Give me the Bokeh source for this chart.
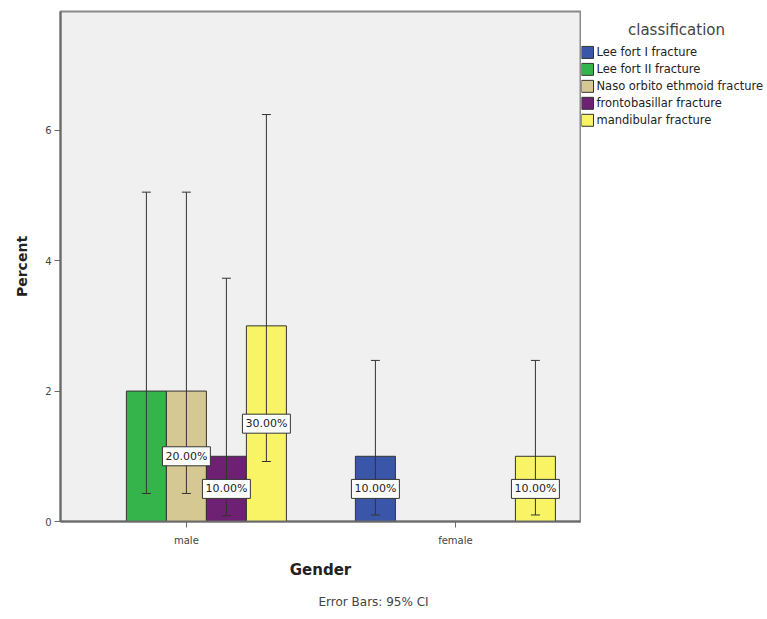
from bokeh.plotting import figure
from bokeh.layouts import row
from bokeh.models import (ColumnDataSource, Whisker, TeeHead, Label, Title,
                          FixedTicker, Range1d)
from bokeh.core.properties import value
from bokeh.embed import file_html
from bokeh.resources import INLINE

# ---------------- data ----------------
genders = ["male", "female"]
classes = ["Lee fort I fracture", "Lee fort II fracture",
           "Naso orbito ethmoid fracture", "frontobasillar fracture",
           "mandibular fracture"]
colors = ["#3A56A8", "#34B44A", "#D6C892", "#6E2172", "#F8F466"]

percent_male = [0, 2, 2, 1, 3]
percent_female = [1, 0, 0, 0, 1]
ci_low_male = [None, 0.43, 0.43, 0.09, 0.92]
ci_high_male = [None, 5.05, 5.05, 3.73, 6.24]
ci_low_female = [0.10, None, None, None, 0.10]
ci_high_female = [2.47, None, None, None, 2.47]
label_male = ["", "", "20.00%", "10.00%", "30.00%"]
label_female = ["10.00%", "", "", "", "10.00%"]
y_ticks = [0, 2, 4, 6]

FONT = "DejaVu Sans"
gender_pos = {"male": 1, "female": 2}
slot = 0.1487
H = 619
TOP, BOTTOM = 11, 522          # frame top / bottom in page pixels
LEFT_W, LEG_W = 581, 184       # widths of the two panels

p = figure(width=LEFT_W, height=H, output_backend="svg", toolbar_location=None,
           x_range=Range1d(0.532, 2.465), y_range=Range1d(0, 7.82),
           min_border_left=60, min_border_right=1, min_border_top=TOP,
           min_border_bottom=H - BOTTOM)
p.background_fill_color = "#F0F0F0"
p.border_fill_color = "white"
p.outline_line_color = "#8a8a8a"
p.outline_line_width = 2
p.xgrid.visible = False
p.ygrid.visible = False

values = {"male": percent_male, "female": percent_female}
lows = {"male": ci_low_male, "female": ci_low_female}
highs = {"male": ci_high_male, "female": ci_high_female}
labels = {"male": label_male, "female": label_female}

wx, wl, wu = [], [], []
lx, ly, lt = [], [], []
for i, cls in enumerate(classes):
    off = (i - 2) * slot
    xs, tops = [], []
    for g in genders:
        v = values[g][i]
        x = gender_pos[g] + off
        if v > 0:
            xs.append(x)
            tops.append(v)
        if lows[g][i] is not None:
            wx.append(x); wl.append(lows[g][i]); wu.append(highs[g][i])
        if labels[g][i]:
            lx.append(x); ly.append(v / 2); lt.append(labels[g][i])
    src = ColumnDataSource(dict(x=xs, top=tops))
    p.vbar(x="x", top="top", bottom=0, width=slot, source=src,
           fill_color=colors[i], line_color="#333333", line_width=1)

wsrc = ColumnDataSource(dict(x=wx, lower=wl, upper=wu))
p.add_layout(Whisker(source=wsrc, base="x", lower="lower", upper="upper",
                     level="annotation",
                     line_color="#333333", line_width=1,
                     upper_head=TeeHead(size=9, line_color="#333333", line_width=1),
                     lower_head=TeeHead(size=9, line_color="#333333", line_width=1)))

for x, y, t in zip(lx, ly, lt):
    p.add_layout(Label(x=x, y=y, text=t, text_align="center",
                       text_baseline="middle", text_font=FONT,
                       text_font_size="11px", text_color="#222222",
                       background_fill_color="white",
                       border_line_color="#333333", border_line_width=1,
                       padding=3))

# axes
p.xaxis.ticker = FixedTicker(ticks=[1, 2])
p.xaxis.major_label_overrides = {1: "male", 2: "female"}
p.yaxis.ticker = FixedTicker(ticks=y_ticks)
for ax in (p.xaxis[0], p.yaxis[0]):
    ax.axis_line_color = "#6a6a6a"
    ax.axis_line_width = 2
    ax.major_tick_line_color = "#6a6a6a"
    ax.major_tick_in = 0
    ax.major_tick_out = 6
    ax.minor_tick_line_color = None
    ax.major_label_text_font = FONT
    ax.major_label_text_font_size = "10px"
    ax.major_label_text_color = "#444444"
    ax.axis_label_text_font = FONT
    ax.axis_label_text_font_style = "bold"
    ax.axis_label_text_color = "#222222"
p.xaxis.axis_label = "Gender"
p.yaxis.axis_label = "Percent"
p.xaxis.axis_label_text_font_size = "15px"
p.yaxis.axis_label_text_font_size = "14px"
p.xaxis.major_label_standoff = 7
p.xaxis.axis_label_standoff = 12
p.yaxis.major_label_standoff = 3
p.yaxis.axis_label_standoff = 12

p.add_layout(Title(text="Error Bars: 95% CI", align="left", offset=258,
                   text_font=FONT, text_font_size="12px",
                   text_font_style="normal", text_color="#444444",
                   standoff=22), "below")

# ---------------- legend panel (data units = page pixels) ----------------
q = figure(width=LEG_W, height=H, output_backend="svg", toolbar_location=None,
           x_range=Range1d(LEFT_W, LEFT_W + LEG_W), y_range=Range1d(BOTTOM, TOP),
           x_axis_location=None, y_axis_location=None,
           min_border_left=0, min_border_right=0, min_border_top=TOP,
           min_border_bottom=H - BOTTOM, outline_line_color=None)
q.grid.visible = False
q.background_fill_color = "white"
q.border_fill_color = "white"

row_y = [52 + 17 * k for k in range(len(classes))]
leg = ColumnDataSource(dict(x=[LEFT_W + 6] * len(classes), y=row_y,
                            tx=[LEFT_W + 15] * len(classes),
                            label=classes, color=colors))
q.rect(x="x", y="y", width=12, height=12, source=leg,
       fill_color="color", line_color="#333333", line_width=1)
q.text(x="tx", y="y", text="label", source=leg, text_baseline="middle",
       text_align="left", text_font=value(FONT), text_font_size="11.5px",
       text_color="#222222")
q.text(x=[LEFT_W + 95], y=[30], text=["classification"], text_align="center",
       text_baseline="middle", text_font=value(FONT), text_font_size="15px",
       text_color="#444444")

open("out.html", "w").write(file_html(row(p, q), INLINE))
